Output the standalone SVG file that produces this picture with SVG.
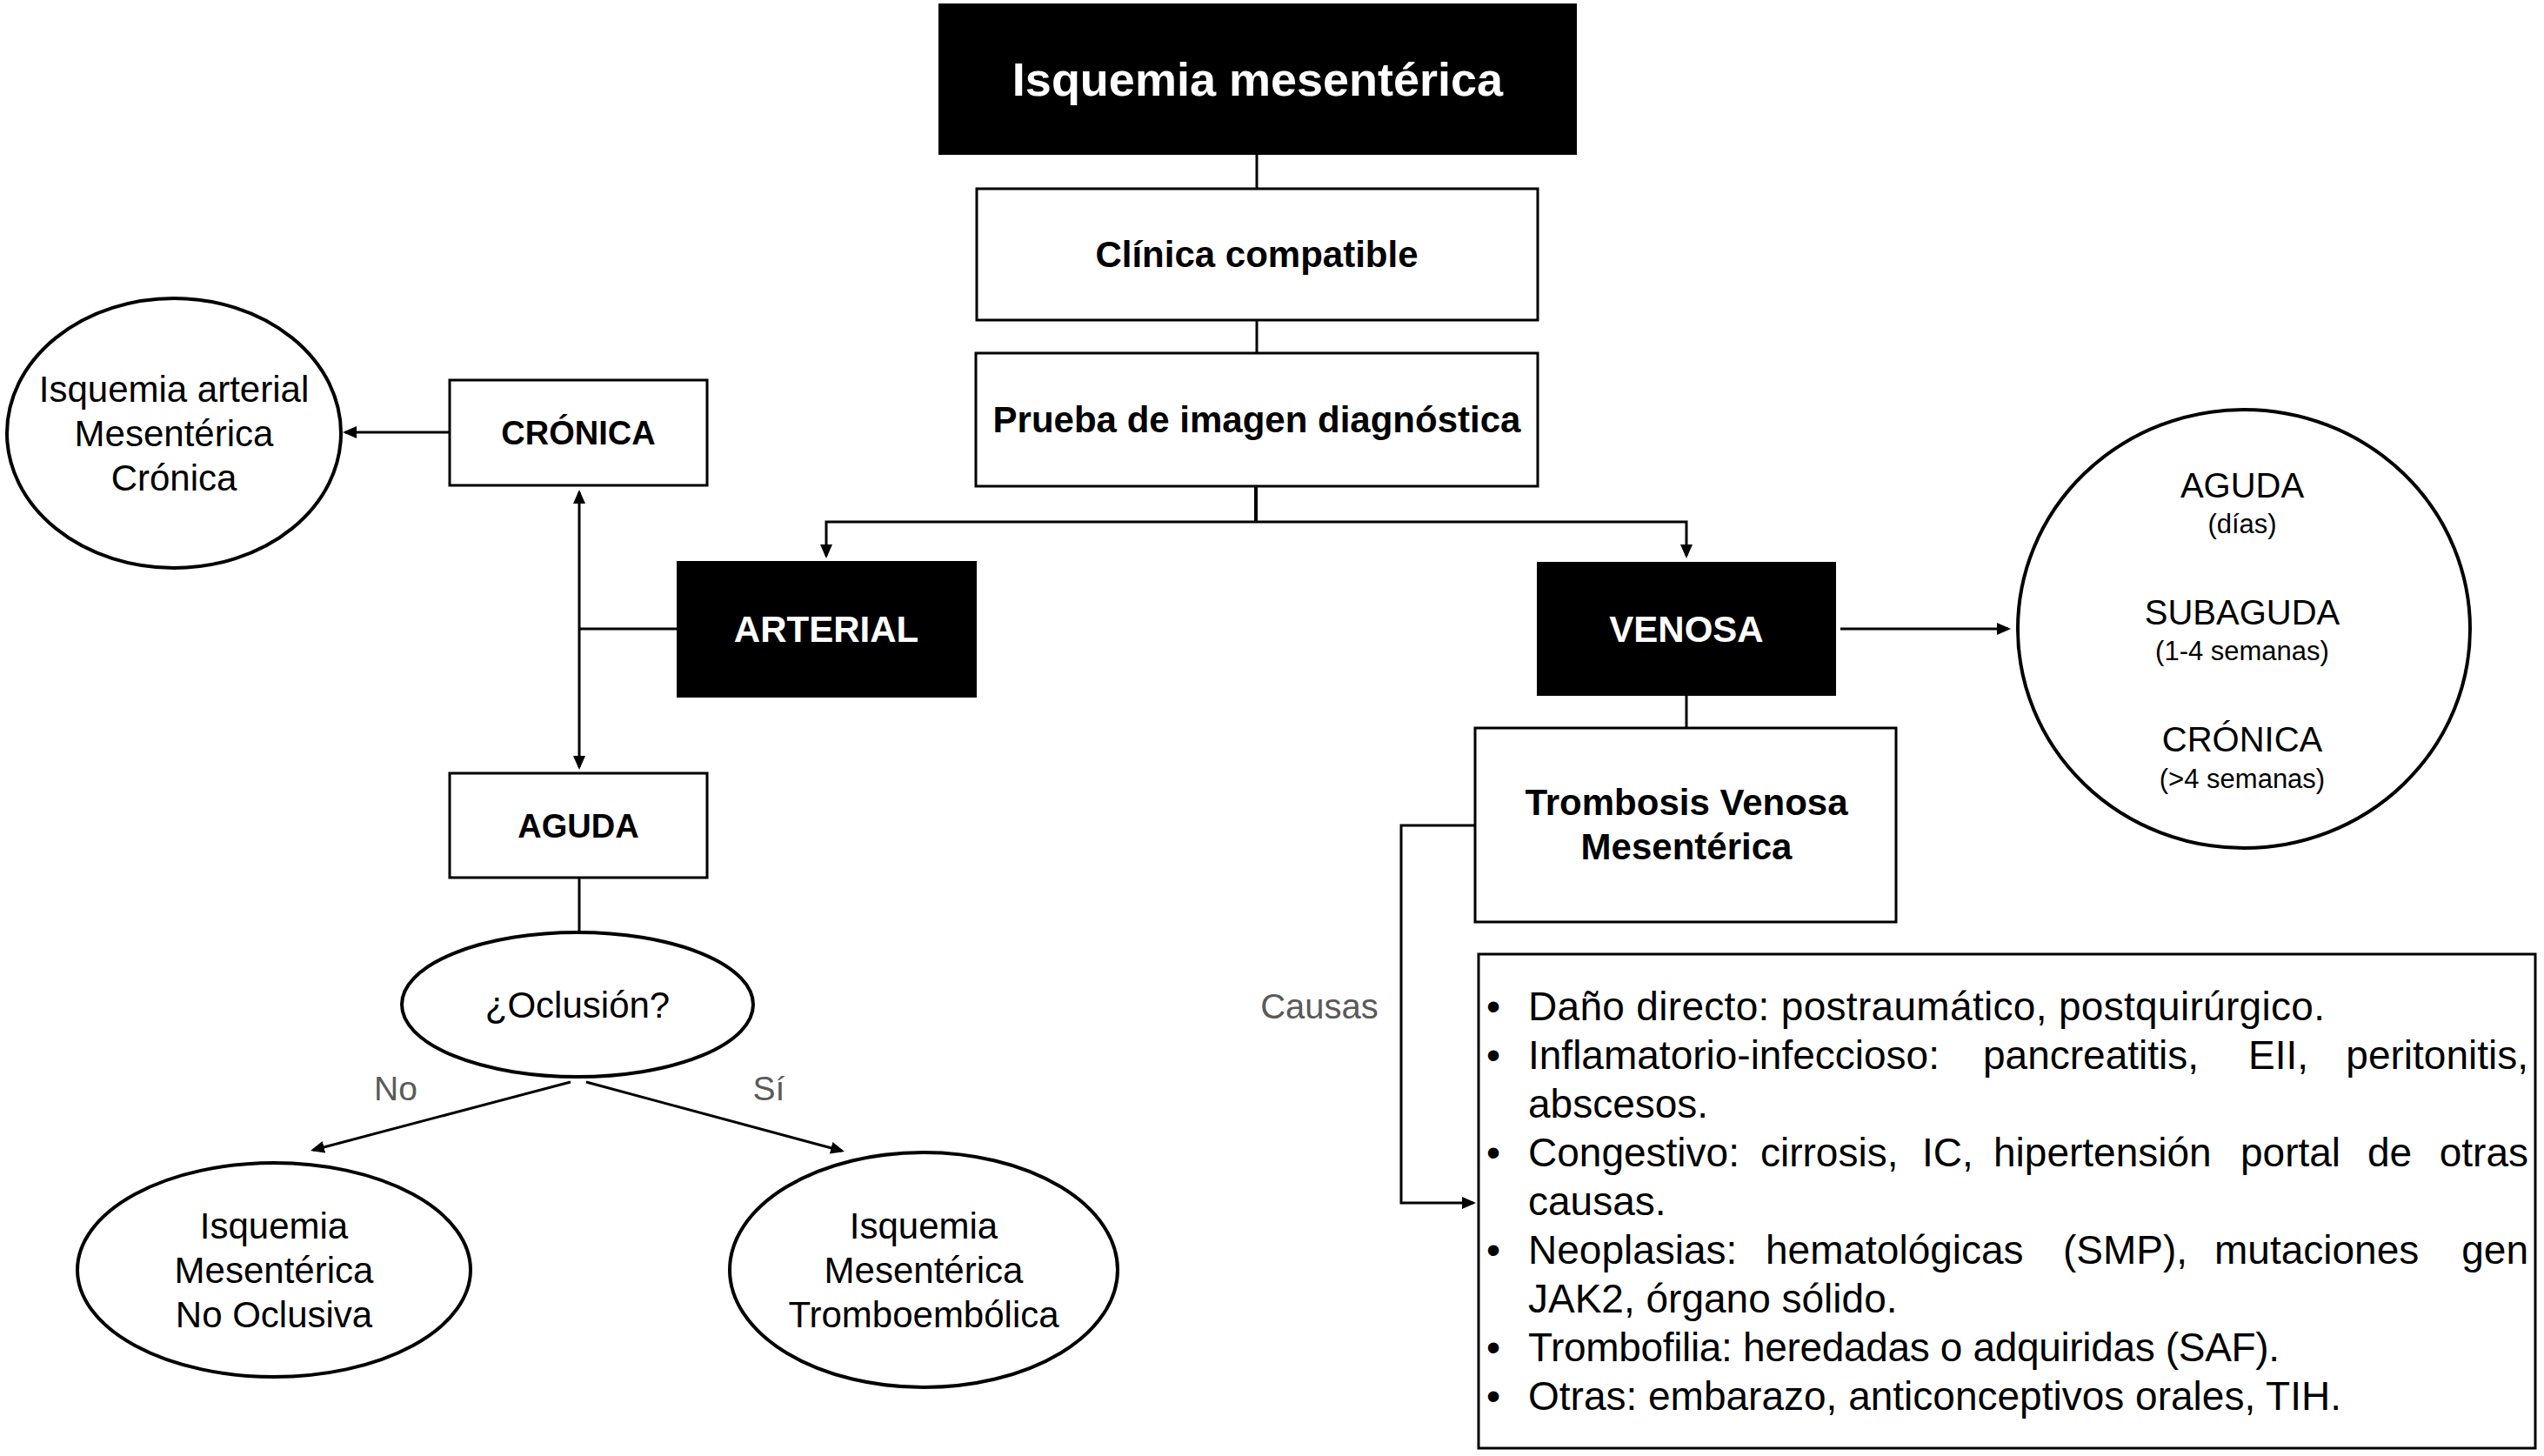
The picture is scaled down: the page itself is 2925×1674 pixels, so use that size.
<svg xmlns="http://www.w3.org/2000/svg" width="2925" height="1674" viewBox="0 0 2925 1674">
<defs>
<marker id="arr" viewBox="0 0 16 16" markerWidth="16" markerHeight="16" refX="13" refY="8" orient="auto-start-reverse" markerUnits="userSpaceOnUse">
<path d="M0,1 L16,8 L0,15 z" fill="#000"/>
</marker>
<style>
.box{fill:#fff;stroke:#000;stroke-width:3}
.blk{fill:#000;stroke:#000;stroke-width:2}
.ell{fill:#fff;stroke:#000;stroke-width:4}
.ln{fill:none;stroke:#000;stroke-width:3}
.b{font-family:"Liberation Sans",Arial,sans-serif;font-weight:bold;text-anchor:middle;fill:#000}
.w{fill:#fff}
.r{font-family:"Liberation Sans",Arial,sans-serif;text-anchor:middle;fill:#000}
.g{font-family:"Liberation Sans",Arial,sans-serif;text-anchor:middle;fill:#5a5a5a}
.li{font-family:"Liberation Sans",Arial,sans-serif;font-size:46px;fill:#000}
.e{text-anchor:end}
</style>
</defs>
<rect width="2925" height="1674" fill="#fff"/>

<g id="connectors">
<line class="ln" x1="1445" y1="177" x2="1445" y2="217"/>
<line class="ln" x1="1445" y1="368" x2="1445" y2="406"/>
<line class="ln" x1="1444" y1="559" x2="1444" y2="600" style="stroke-width:4"/>
<polyline class="ln" points="950,639 950,600 1939,600 1939,639" marker-start="url(#arr)" marker-end="url(#arr)"/>
<line class="ln" x1="517" y1="497" x2="397" y2="497" marker-end="url(#arr)"/>
<line class="ln" x1="666" y1="566" x2="666" y2="882" marker-start="url(#arr)" marker-end="url(#arr)"/>
<line class="ln" x1="779" y1="723" x2="666" y2="723"/>
<line class="ln" x1="666" y1="1009" x2="666" y2="1072"/>
<line class="ln" x1="656" y1="1244" x2="359.9" y2="1322.2" marker-end="url(#arr)"/>
<line class="ln" x1="674" y1="1244" x2="968.1" y2="1323.2" marker-end="url(#arr)"/>
<line class="ln" x1="2116" y1="723" x2="2309" y2="723" marker-end="url(#arr)"/>
<line class="ln" x1="1939" y1="799" x2="1939" y2="837"/>
<polyline class="ln" points="1696,949 1611,949 1611,1383 1694,1383" marker-end="url(#arr)"/>
<text class="g" x="455" y="1265" font-size="39">No</text>
<text class="g" x="884" y="1265" font-size="39">Sí</text>
<text class="g" x="1517" y="1171" font-size="40">Causas</text>
</g>

<g id="n-title">
<rect class="blk" x="1080" y="5" width="732" height="172"/>
<text class="b w" x="1446" y="110" font-size="54">Isquemia mesentérica</text>
</g>

<g id="n-clinica">
<rect class="box" x="1123" y="217" width="645" height="151"/>
<text class="b" x="1445" y="307" font-size="42">Clínica compatible</text>
</g>

<g id="n-prueba">
<rect class="box" x="1122" y="406" width="646" height="153"/>
<text class="b" x="1445" y="497" font-size="42">Prueba de imagen diagnóstica</text>
</g>

<g id="n-arterial">
<rect class="blk" x="779" y="646" width="343" height="155"/>
<text class="b w" x="950" y="738" font-size="42">ARTERIAL</text>
</g>

<g id="n-venosa">
<rect class="blk" x="1768" y="647" width="342" height="152"/>
<text class="b w" x="1939" y="738" font-size="42">VENOSA</text>
</g>

<g id="n-cronica">
<rect class="box" x="517" y="437" width="296" height="121"/>
<text class="b" x="665" y="511" font-size="38">CRÓNICA</text>
</g>

<g id="n-aguda">
<rect class="box" x="517" y="889" width="296" height="120"/>
<text class="b" x="665" y="963" font-size="38">AGUDA</text>
</g>

<g id="n-iamc">
<ellipse class="ell" cx="200" cy="498" rx="192" ry="155"/>
<text class="r" x="200" y="462" font-size="42">Isquemia arterial</text>
<text class="r" x="200" y="513" font-size="42">Mesentérica</text>
<text class="r" x="200" y="564" font-size="42">Crónica</text>
</g>

<g id="n-oclusion">
<ellipse class="ell" cx="664" cy="1155" rx="202" ry="83"/>
<text class="r" x="664" y="1170" font-size="42">¿Oclusión?</text>
</g>

<g id="n-imno">
<ellipse class="ell" cx="315" cy="1460" rx="226" ry="123"/>
<text class="r" x="315" y="1424" font-size="42">Isquemia</text>
<text class="r" x="315" y="1475" font-size="42">Mesentérica</text>
<text class="r" x="315" y="1526" font-size="42">No Oclusiva</text>
</g>

<g id="n-imte">
<ellipse class="ell" cx="1062" cy="1460" rx="223" ry="135"/>
<text class="r" x="1062" y="1424" font-size="42">Isquemia</text>
<text class="r" x="1062" y="1475" font-size="42">Mesentérica</text>
<text class="r" x="1062" y="1526" font-size="42">Tromboembólica</text>
</g>

<g id="n-tiempos">
<ellipse class="ell" cx="2580" cy="723" rx="260" ry="252"/>
<text class="r" x="2578" y="572" font-size="40">AGUDA</text>
<text class="r" x="2578" y="613" font-size="31">(días)</text>
<text class="r" x="2578" y="718" font-size="40">SUBAGUDA</text>
<text class="r" x="2578" y="759" font-size="31">(1-4 semanas)</text>
<text class="r" x="2578" y="864" font-size="40">CRÓNICA</text>
<text class="r" x="2578" y="906" font-size="31">(&gt;4 semanas)</text>
</g>

<g id="n-tvm">
<rect class="box" x="1696" y="837" width="484" height="223"/>
<text class="b" x="1939" y="937" font-size="42">Trombosis Venosa</text>
<text class="b" x="1939" y="988" font-size="42">Mesentérica</text>
</g>

<g id="n-causas">
<rect class="box" x="1700" y="1097" width="1215" height="568"/>
<text class="li" y="1173"><tspan x="1709">•</tspan><tspan x="1757" textLength="916" lengthAdjust="spacing">Daño directo: postraumático, postquirúrgico.</tspan></text>
<text class="li" y="1229"><tspan x="1709">•</tspan><tspan x="1757">Inflamatorio-infeccioso:</tspan><tspan x="2280">pancreatitis,</tspan><tspan x="2585">EII,</tspan><tspan class="e" x="2907" text-anchor="end">peritonitis,</tspan></text>
<text class="li" y="1285"><tspan x="1757">abscesos.</tspan></text>
<text class="li" y="1341"><tspan x="1709">•</tspan><tspan x="1757">Congestivo:</tspan><tspan x="2024">cirrosis,</tspan><tspan x="2210">IC,</tspan><tspan x="2292">hipertensión</tspan><tspan x="2576">portal</tspan><tspan x="2722">de</tspan><tspan class="e" x="2907" text-anchor="end">otras</tspan></text>
<text class="li" y="1397"><tspan x="1757">causas.</tspan></text>
<text class="li" y="1453"><tspan x="1709">•</tspan><tspan x="1757">Neoplasias:</tspan><tspan x="2030">hematológicas</tspan><tspan x="2372">(SMP),</tspan><tspan x="2546">mutaciones</tspan><tspan class="e" x="2907" text-anchor="end">gen</tspan></text>
<text class="li" y="1509"><tspan x="1757">JAK2, órgano sólido.</tspan></text>
<text class="li" y="1565"><tspan x="1709">•</tspan><tspan x="1757" textLength="864" lengthAdjust="spacing">Trombofilia: heredadas o adquiridas (SAF).</tspan></text>
<text class="li" y="1621"><tspan x="1709">•</tspan><tspan x="1757" textLength="935" lengthAdjust="spacing">Otras: embarazo, anticonceptivos orales, TIH.</tspan></text>
</g>
</svg>
